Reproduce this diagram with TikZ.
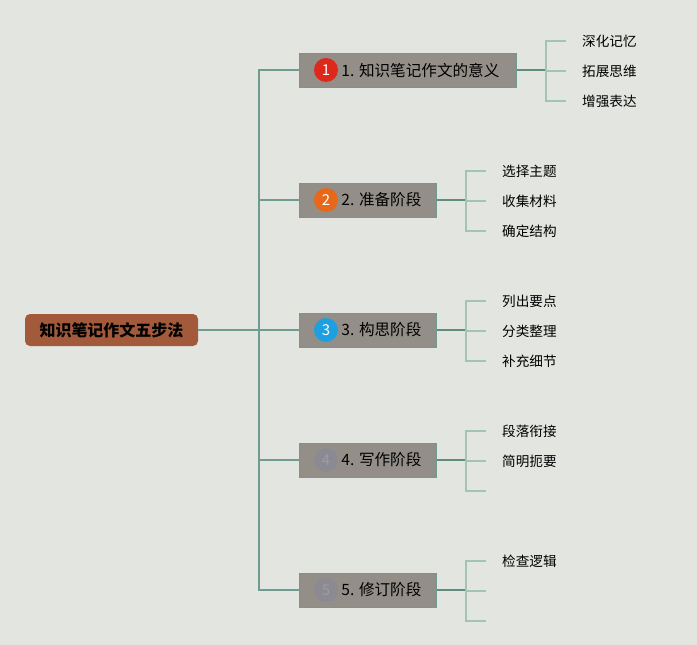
\documentclass[tikz,border=0pt]{standalone}
\usepackage{fontspec}
\setmainfont{Noto Sans CJK SC}
\usepackage{xcolor}
\usetikzlibrary{positioning}
\definecolor{paper}{RGB}{227,229,225}
\definecolor{rootfill}{RGB}{163,90,59}
\definecolor{stagefill}{RGB}{147,143,136}
\definecolor{stageline}{RGB}{111,154,143}
\definecolor{trunkline}{RGB}{110,156,145}
\definecolor{joinline}{RGB}{94,141,128}
\definecolor{leafline}{RGB}{162,195,184}
\definecolor{badgered}{RGB}{222,40,28}
\definecolor{badgeorange}{RGB}{232,104,26}
\definecolor{badgeblue}{RGB}{30,160,224}
\definecolor{badgegray}{RGB}{139,138,146}

\tikzset{
  rootbox/.style={rectangle, rounded corners=5pt, fill=rootfill, minimum width=173pt, minimum height=32pt, font=\fontsize{16}{19}\selectfont\bfseries},
  stagebox/.style={draw=stageline, line width=1pt, rectangle, fill=stagefill, minimum height=34pt, anchor=west},
  stagetext/.style={inner sep=0pt, font=\fontsize{15.6}{18}\selectfont},
  badge/.style={circle, fill=#1, minimum size=24pt, inner sep=0pt, text=white, font=\fontsize{15}{17}\selectfont},
  leaf/.style={anchor=west, inner xsep=16pt, inner ysep=2pt, font=\fontsize{13.6}{16}\selectfont},
  trunk/.style={draw=trunkline, line width=1.3pt},
  joinedge/.style={draw=joinline, line width=2pt},
  twig/.style={draw=leafline, line width=1.5pt}
}

\begin{document}
\begin{tikzpicture}[x=1pt, y=-1pt]
    \useasboundingbox[fill=paper] (0,0) rectangle (697,645);

    % root
    \node[rootbox] (root) at (111.5,330) {知识笔记作文五步法};

    % stages
    \node[stagebox, minimum width=217pt] (s1) at (299,70) {};
    \node[stagebox, minimum width=137pt] (s2) at (299,200) {};
    \node[stagebox, minimum width=137pt] (s3) at (299,330) {};
    \node[stagebox, minimum width=137pt] (s4) at (299,460) {};
    \node[stagebox, minimum width=137pt] (s5) at (299,590) {};

    \node[badge=badgered] (b1) at ([xshift=27pt]s1.west) {1};
    \node[badge=badgeorange] (b2) at ([xshift=27pt]s2.west) {2};
    \node[badge=badgeblue] (b3) at ([xshift=27pt]s3.west) {3};
    \node[badge=badgegray, text=badgegray!85!white] (b4) at ([xshift=27pt]s4.west) {4};
    \node[badge=badgegray, text=badgegray!85!white] (b5) at ([xshift=27pt]s5.west) {5};

    \node[stagetext, right=3pt of b1] (t1) {1. 知识笔记作文的意义};
    \node[stagetext, right=3pt of b2] (t2) {2. 准备阶段};
    \node[stagetext, right=3pt of b3] (t3) {3. 构思阶段};
    \node[stagetext, right=3pt of b4] (t4) {4. 写作阶段};
    \node[stagetext, right=3pt of b5] (t5) {5. 修订阶段};

    % trunk
    \coordinate (tk) at (259,330);
    \draw[trunk] (root.east) -- (tk);
    \draw[trunk] (s1.west) -| (tk);
    \draw[trunk] (s5.west) -| (tk);
    \draw[trunk] (s2.west) -- (s2.west -| tk);
    \draw[trunk] (s3.west) -- (tk);
    \draw[trunk] (s4.west) -- (s4.west -| tk);

    % stage 1 leaves
    \coordinate (j1) at (546,70);
    \node[leaf] (l11) at (566,41) {深化记忆};
    \node[leaf] (l12) at (566,71) {拓展思维};
    \node[leaf] (l13) at (566,101) {增强表达};
    \draw[joinedge] (s1.east) -- (j1);
    \draw[twig] (l11.west) -| (j1);
    \draw[twig] (l13.west) -| (j1);
    \draw[twig] (l12.west) -- (l12.west -| j1);

    % stage 2 leaves
    \coordinate (j2) at (466,200);
    \node[leaf] (l21) at (486,171) {选择主题};
    \node[leaf] (l22) at (486,201) {收集材料};
    \node[leaf] (l23) at (486,231) {确定结构};
    \draw[joinedge] (s2.east) -- (j2);
    \draw[twig] (l21.west) -| (j2);
    \draw[twig] (l23.west) -| (j2);
    \draw[twig] (l22.west) -- (l22.west -| j2);

    % stage 3 leaves
    \coordinate (j3) at (466,330);
    \node[leaf] (l31) at (486,301) {列出要点};
    \node[leaf] (l32) at (486,331) {分类整理};
    \node[leaf] (l33) at (486,361) {补充细节};
    \draw[joinedge] (s3.east) -- (j3);
    \draw[twig] (l31.west) -| (j3);
    \draw[twig] (l33.west) -| (j3);
    \draw[twig] (l32.west) -- (l32.west -| j3);

    % stage 4 leaves
    \coordinate (j4) at (466,460);
    \node[leaf] (l41) at (486,431) {段落衔接};
    \node[leaf] (l42) at (486,461) {简明扼要};
    \coordinate (l43) at (486,491);
    \draw[joinedge] (s4.east) -- (j4);
    \draw[twig] (l41.west) -| (j4);
    \draw[twig] (l43) -| (j4);
    \draw[twig] (l42.west) -- (l42.west -| j4);

    % stage 5 leaves
    \coordinate (j5) at (466,590);
    \node[leaf] (l51) at (486,561) {检查逻辑};
    \coordinate (l52) at (486,591);
    \coordinate (l53) at (486,621);
    \draw[joinedge] (s5.east) -- (j5);
    \draw[twig] (l51.west) -| (j5);
    \draw[twig] (l53) -| (j5);
    \draw[twig] (l52) -- (l52 -| j5);
\end{tikzpicture}
\end{document}
